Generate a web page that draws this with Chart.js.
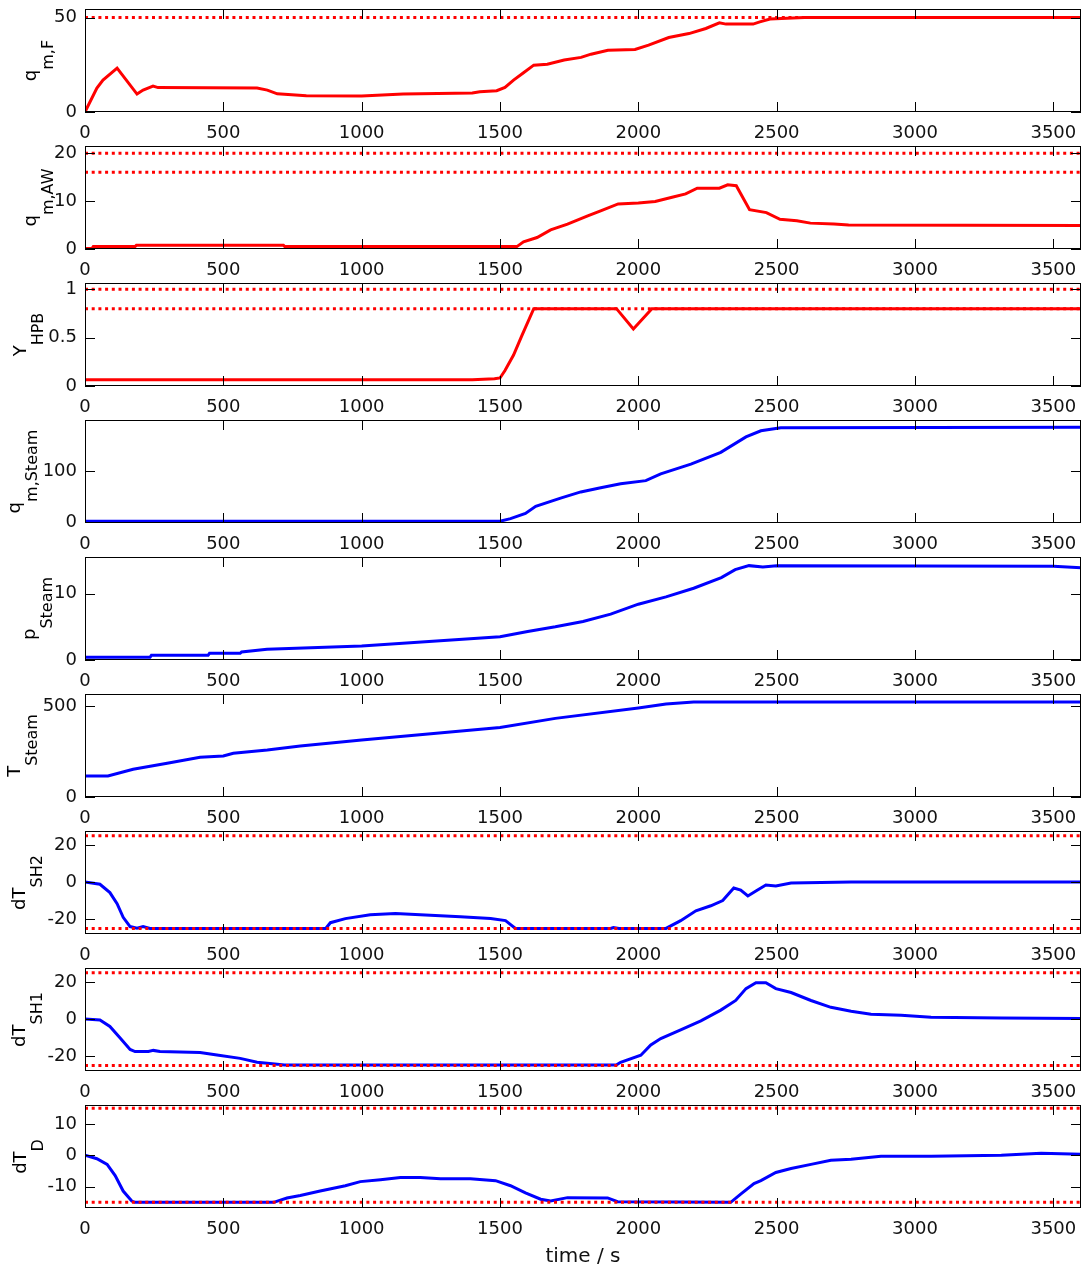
<!DOCTYPE html>
<html><head><meta charset="utf-8">
<script src="https://cdn.jsdelivr.net/npm/chart.js@4.4.0/dist/chart.umd.min.js"></script>
<style>
body{margin:0;background:#fff}
#wrap{position:relative;width:1082px;height:1269px;background:#fff}
.p{position:absolute;left:0}
</style>
</head><body><div id="wrap"></div>
<script>
// ---------------- data ----------------
const timeTicks = [0, 500, 1000, 1500, 2000, 2500, 3000, 3500];

const qmF_t = [0, 43, 65, 116, 188, 210, 246, 264, 622, 659, 695, 800, 1000, 1150, 1400, 1427, 1488, 1518, 1549, 1585, 1622, 1671, 1732, 1793, 1829, 1890, 1988, 2037, 2110, 2183, 2244, 2293, 2317, 2415, 2439, 2476, 2600, 3600];
const qmF_v = [0, 12.7, 16.9, 23.2, 9.5, 11.6, 13.7, 12.9, 12.7, 11.6, 9.6, 8.6, 8.5, 9.5, 10, 10.7, 11.3, 13, 16.9, 20.8, 24.8, 25.3, 27.5, 28.9, 30.6, 32.7, 33.1, 35.4, 39.4, 41.5, 44.2, 47.2, 46.5, 46.5, 47.7, 49.2, 50, 50];
const qmF_limits = [50];
const qmF_ticks = [0, 50];

const qmAW_t = [0, 25, 30, 181, 186, 717, 722, 1500, 1561, 1585, 1634, 1683, 1744, 1817, 1866, 1927, 2000, 2061, 2122, 2171, 2213, 2293, 2323, 2354, 2402, 2463, 2512, 2573, 2622, 2707, 2760, 3600];
const qmAW_v = [0.1, 0.1, 0.5, 0.5, 0.8, 0.8, 0.5, 0.5, 0.5, 1.5, 2.4, 4.0, 5.2, 6.9, 8.0, 9.4, 9.6, 9.9, 10.8, 11.5, 12.7, 12.7, 13.4, 13.2, 8.2, 7.6, 6.2, 5.9, 5.4, 5.2, 5.0, 4.9];
const qmAW_limits = [20, 16];
const qmAW_ticks = [0, 10, 20];

const YHPB_t = [0, 1400, 1480, 1500, 1518, 1549, 1579, 1622, 1921, 1982, 2049, 3600];
const YHPB_v = [0.065, 0.065, 0.075, 0.083, 0.16, 0.32, 0.52, 0.8, 0.8, 0.59, 0.8, 0.8];
const YHPB_limits = [1, 0.8];
const YHPB_ticks = [0, 0.5, 1];

const qmSteam_t = [0, 1500, 1538, 1592, 1629, 1719, 1792, 1864, 1936, 2027, 2081, 2190, 2298, 2389, 2443, 2515, 3600];
const qmSteam_v = [2, 2, 7, 17, 31, 47, 59, 67, 75, 81, 94, 113, 136, 166, 178, 184, 185];
const qmSteam_limits = [];
const qmSteam_ticks = [0, 100];

const pSteam_t = [0, 235, 240, 445, 450, 561, 566, 658, 1000, 1500, 1600, 1700, 1800, 1900, 2000, 2100, 2200, 2300, 2350, 2400, 2450, 2500, 3500, 3600];
const pSteam_v = [0.4, 0.4, 0.7, 0.7, 1.0, 1.0, 1.2, 1.6, 2.1, 3.5, 4.3, 5.0, 5.8, 6.9, 8.4, 9.5, 10.8, 12.4, 13.6, 14.2, 14.0, 14.2, 14.1, 13.9];
const pSteam_limits = [];
const pSteam_ticks = [0, 10];

const TSteam_t = [0, 83, 174, 297, 416, 500, 536, 659, 778, 1000, 1500, 1700, 2000, 2100, 2200, 3600];
const TSteam_v = [115, 115, 152, 185, 218, 225, 240, 258, 280, 313, 382, 432, 489, 511, 522, 522];
const TSteam_limits = [];
const TSteam_ticks = [0, 500];

const dTSH2_t = [0, 54, 90, 116, 138, 163, 188, 210, 235, 870, 887, 941, 1031, 1122, 1212, 1357, 1466, 1520, 1556, 1900, 1910, 1930, 2100, 2153, 2208, 2262, 2305, 2345, 2370, 2396, 2425, 2461, 2497, 2552, 2769, 3600];
const dTSH2_v = [0, -1.2, -5.7, -11.7, -19, -24, -24.9, -24, -25, -25, -21.9, -19.7, -17.6, -17, -17.6, -18.7, -19.7, -20.8, -25, -25, -24.5, -25, -25, -20.8, -15.5, -12.8, -10, -3.2, -4.3, -7.5, -4.8, -1.6, -2.1, -0.5, 0, 0];
const dTSH2_limits = [25, -25];
const dTSH2_ticks = [-20, 0, 20];

const dTSH1_t = [0, 54, 90, 127, 163, 181, 229, 247, 271, 416, 477, 561, 622, 695, 720, 1920, 1936, 2009, 2045, 2081, 2153, 2226, 2298, 2352, 2389, 2425, 2461, 2497, 2552, 2624, 2696, 2769, 2841, 2950, 3058, 3312, 3600];
const dTSH1_v = [0, -0.5, -4, -10.2, -16.4, -17.5, -17.5, -16.9, -17.5, -18, -19.4, -21.2, -23.3, -24.3, -24.8, -24.8, -23.3, -19.5, -14, -10.5, -5.8, -1, 4.8, 10, 16.4, 19.6, 19.6, 16.4, 14.3, 10, 6.3, 4.2, 2.6, 2.1, 1, 0.5, 0.3];
const dTSH1_limits = [25, -25];
const dTSH1_ticks = [-20, 0, 20];

const dTD_t = [0, 43, 80, 109, 138, 169, 180, 682, 730, 778, 850, 941, 995, 1068, 1140, 1212, 1285, 1393, 1484, 1538, 1592, 1647, 1683, 1744, 1889, 1925, 2334, 2370, 2418, 2443, 2497, 2552, 2624, 2696, 2769, 2877, 3058, 3312, 3456, 3600];
const dTD_v = [0, -1.1, -2.9, -6.5, -11.4, -14.6, -15, -15, -13.6, -12.8, -11.4, -9.7, -8.4, -7.8, -7.1, -7.1, -7.5, -7.5, -8.1, -9.7, -12, -14, -14.6, -13.5, -13.6, -14.8, -15, -12.4, -9, -8.1, -5.5, -4.2, -2.9, -1.6, -1.3, -0.3, -0.3, 0, 0.6, 0.3];
const dTD_limits = [15, -15];
const dTD_ticks = [-10, 0, 10];

// ---------------- panels (labels + styling) ----------------
const RED = '#ff0000', BLUE = '#0000ff';
const panels = [
  {main:'q',  sub:'m,F',     t:qmF_t,     v:qmF_v,     limits:qmF_limits,     ticks:qmF_ticks,     min:0,     max:54.5,  color:RED,  subX:53},
  {main:'q',  sub:'m,AW',    t:qmAW_t,    v:qmAW_v,    limits:qmAW_limits,    ticks:qmAW_ticks,    min:0,     max:21.5,  color:RED,  subX:53},
  {main:'Y',  sub:'HPB',     t:YHPB_t,    v:YHPB_v,    limits:YHPB_limits,    ticks:YHPB_ticks,    min:0,     max:1.065, color:RED,  subX:43},
  {main:'q',  sub:'m,Steam', t:qmSteam_t, v:qmSteam_v, limits:qmSteam_limits, ticks:qmSteam_ticks, min:-1.5,  max:199,   color:BLUE, subX:37},
  {main:'p',  sub:'Steam',   t:pSteam_t,  v:pSteam_v,  limits:pSteam_limits,  ticks:pSteam_ticks,  min:0,     max:15.5,  color:BLUE, subX:52},
  {main:'T',  sub:'Steam',   t:TSteam_t,  v:TSteam_v,  limits:TSteam_limits,  ticks:TSteam_ticks,  min:0,     max:566,   color:BLUE, subX:37},
  {main:'dT', sub:'SH2',     t:dTSH2_t,   v:dTSH2_v,   limits:dTSH2_limits,   ticks:dTSH2_ticks,   min:-28,   max:27.5,  color:BLUE, subX:42},
  {main:'dT', sub:'SH1',     t:dTSH1_t,   v:dTSH1_v,   limits:dTSH1_limits,   ticks:dTSH1_ticks,   min:-28,   max:27.5,  color:BLUE, subX:42},
  {main:'dT', sub:'D',       t:dTD_t,     v:dTD_v,     limits:dTD_limits,     ticks:dTD_ticks,     min:-16.8, max:16,    color:BLUE, subX:43}
];

const FAMILY = '"DejaVu Sans", "Liberation Sans", sans-serif';
Chart.defaults.font.family = FAMILY;

const boxPlugin = {
  id: 'matlabBox',
  afterDraw(chart, args, o) {
    const {ctx, chartArea: a} = chart;
    const xs = chart.scales.x, ys = chart.scales.y;
    ctx.save();
    ctx.strokeStyle = '#000';
    ctx.lineWidth = 1;
    ctx.strokeRect(a.left + 0.5, a.top + 0.5, a.right - a.left - 1, a.bottom - a.top - 1);
    ctx.beginPath();
    xs.ticks.forEach(tk => {
      const px = Math.round(xs.getPixelForValue(tk.value)) + 0.5;
      ctx.moveTo(px, a.bottom); ctx.lineTo(px, a.bottom - 10);
      ctx.moveTo(px, a.top); ctx.lineTo(px, a.top + 10);
    });
    ys.ticks.forEach(tk => {
      const py = Math.round(ys.getPixelForValue(tk.value)) + 0.5;
      ctx.moveTo(a.left, py); ctx.lineTo(a.left + 10, py);
      ctx.moveTo(a.right, py); ctx.lineTo(a.right - 10, py);
    });
    ctx.stroke();
    // y label with subscript
    const fMain = '18px ' + FAMILY, fSub = '16px ' + FAMILY;
    ctx.font = fMain; const wm = ctx.measureText(o.main).width;
    ctx.font = fSub; const ws = ctx.measureText(o.sub).width;
    const total = wm + ws;
    const cy = (a.top + a.bottom) / 2;
    ctx.fillStyle = '#000';
    ctx.textAlign = 'left';
    ctx.textBaseline = 'alphabetic';
    ctx.translate(o.subX - 17, cy);
    ctx.rotate(-Math.PI / 2);
    ctx.font = fMain; ctx.fillText(o.main, -total / 2, 0);
    ctx.font = fSub; ctx.fillText(o.sub, -total / 2 + wm, 17);
    ctx.restore();
  }
};

function noPad(s) {
  s.paddingTop = 0; s.paddingBottom = 0; s.paddingLeft = 0; s.paddingRight = 0;
}

const wrap = document.getElementById('wrap');
panels.forEach((p, i) => {
  const last = i === panels.length - 1;
  const H = last ? 173 : 146;
  const cv = document.createElement('canvas');
  cv.className = 'p';
  cv.width = 1082; cv.height = H;
  cv.style.width = '1082px'; cv.style.height = H + 'px';
  cv.style.top = (i * 137) + 'px';
  wrap.appendChild(cv);

  const datasets = p.limits.map(L => ({
    data: [{x: 0, y: L}, {x: 3600, y: L}],
    borderColor: RED, borderWidth: 3, borderDash: [3, 3.7],
    pointRadius: 0, fill: false, tension: 0
  }));
  datasets.push({
    data: p.t.map((tt, k) => ({x: tt, y: p.v[k]})),
    borderColor: p.color, borderWidth: 3,
    pointRadius: 0, fill: false, tension: 0
  });

  new Chart(cv, {
    type: 'line',
    data: {datasets},
    plugins: [boxPlugin],
    options: {
      responsive: false,
      animation: false,
      events: [],
      layout: {padding: {top: 9, right: 1, left: 0, bottom: 0}},
      plugins: {
        legend: {display: false},
        tooltip: {enabled: false},
        matlabBox: {main: p.main, sub: p.sub, subX: p.subX}
      },
      scales: {
        x: {
          type: 'linear', position: 'bottom', min: 0, max: 3600,
          afterBuildTicks: s => { s.ticks = timeTicks.map(v => ({value: v})); },
          afterFit: s => { s.height = last ? 61 : 34; noPad(s); },
          ticks: {font: {size: 18, family: FAMILY}, color: '#111', padding: 11, maxRotation: 0, autoSkip: false, callback: v => String(v)},
          grid: {display: false, drawTicks: false},
          border: {display: false},
          title: last ? {display: true, text: 'time / s', color: '#111', font: {size: 20, family: FAMILY}, padding: {top: 0, bottom: 0}} : {display: false}
        },
        y: {
          type: 'linear', position: 'left', min: p.min, max: p.max,
          afterBuildTicks: s => { s.ticks = p.ticks.map(v => ({value: v})); },
          afterFit: s => { s.width = 85; noPad(s); },
          ticks: {font: {size: 18, family: FAMILY}, color: '#111', padding: 8, autoSkip: false, callback: v => String(v)},
          grid: {display: false, drawTicks: false},
          border: {display: false}
        }
      }
    }
  });
});
</script>
</body></html>
